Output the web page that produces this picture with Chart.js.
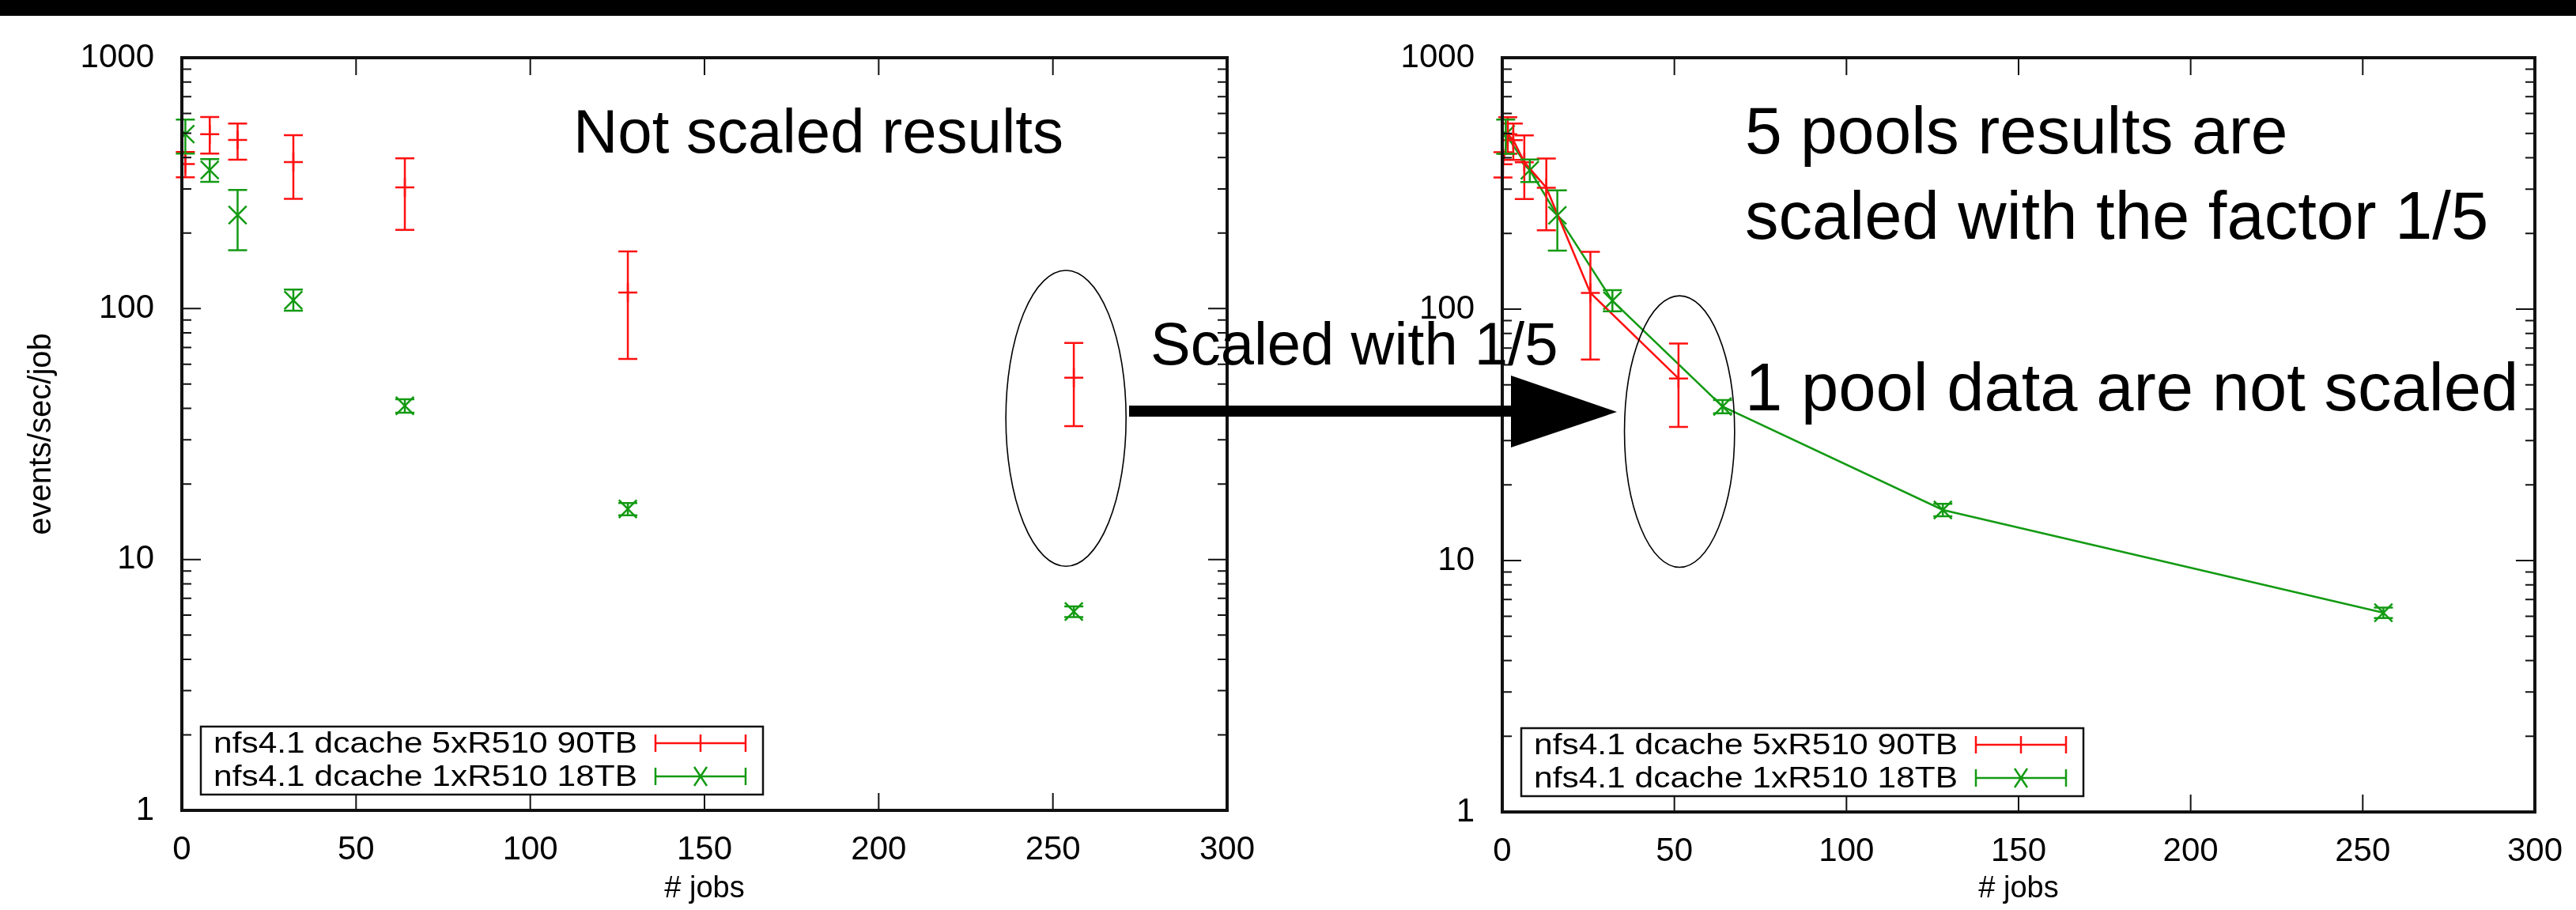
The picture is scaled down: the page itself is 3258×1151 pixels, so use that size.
<!DOCTYPE html>
<html>
<head>
<meta charset="utf-8">
<script src="https://cdn.jsdelivr.net/npm/chart.js@4.4.0/dist/chart.umd.min.js"></script>
<style>
  html, body { margin: 0; padding: 0; background: #fff; }
  #page { position: relative; width: 3258px; height: 1151px; overflow: hidden; background: #fff; }
  #topbar { position: absolute; left: 0; top: 0; width: 3258px; height: 20px; background: #000; z-index: 5; }
  canvas { position: absolute; top: 0; }
  #left { left: 0; }
  #right { left: 1700px; }
  #notes { position: absolute; left: 0; top: 0; z-index: 4; font-family: "Liberation Sans", Arial, sans-serif; }
</style>
</head>
<body>
<div id="page">
  <div id="topbar"></div>
  <canvas id="left" width="1700" height="1151"></canvas>
  <canvas id="right" width="1558" height="1151"></canvas>
  <svg id="notes" width="3258" height="1151">
    <text x="725" y="193" font-size="78">Not scaled results</text>
    <line x1="1428" y1="520" x2="1915" y2="520" stroke="#000" stroke-width="14"/>
    <polygon points="1911,475 2045,521 1911,566" fill="#000"/>
    <text x="1455" y="461" font-size="76">Scaled with 1/5</text>
    <text x="2207" y="194" font-size="84">5 pools results are</text>
    <text x="2207" y="302" font-size="85">scaled with the factor 1/5</text>
    <text x="2207" y="519" font-size="85">1 pool data are not scaled</text>
  </svg>
</div>
<script>
var FONT = '"Liberation Sans", Arial, sans-serif';

// # jobs and events/sec/job
var jobs = [1, 8, 16, 32, 64, 128, 256];
var jobsScaled = [0.2, 1.6, 3.2, 6.4, 12.8, 25.6, 51.2];   // 5 pool runs, jobs scaled by 1/5

var pool5Rate = [377, 496, 470, 384, 304, 116, 53];
var pool5Low  = [334, 415, 392, 274, 206, 63, 34];
var pool5High = [421, 580, 547, 491, 397, 169, 73];

var pool1Rate = [496, 357, 236, 108, 41, 15.9, 6.2];
var pool1Low  = [415, 320, 171, 98, 38.5, 15.0, 5.9];
var pool1High = [567, 394, 297, 119, 43.5, 16.8, 6.5];

var xTicks = [0, 50, 100, 150, 200, 250, 300];
var yTicks = [1, 10, 100, 1000];

var RED = '#ff1010';
var GREEN = '#139a13';

function points(xs, ys, lo, hi) {
	var out = [];
	for (var i = 0; i < xs.length; i++) {
		out.push({ x: xs[i], y: ys[i], lo: lo[i], hi: hi[i] });
	}
	return out;
}

// frame with inward ticks like gnuplot
var framePlugin = {
	id: 'frame',
	afterDraw: function (chart) {
		var ctx = chart.ctx, a = chart.chartArea, x = chart.scales.x, y = chart.scales.y;
		ctx.save();
		ctx.strokeStyle = '#111';
		ctx.lineWidth = 2;
		ctx.beginPath();
		xTicks.forEach(function (v) {
			var px = x.getPixelForValue(v);
			ctx.moveTo(px, a.bottom); ctx.lineTo(px, a.bottom - 22);
			ctx.moveTo(px, a.top); ctx.lineTo(px, a.top + 22);
		});
		for (var d = 1; d < 1000; d *= 10) {
			for (var m = 1; m <= 10; m++) {
				var py = y.getPixelForValue(d * m);
				var len = (m === 1 || m === 10) ? 24 : 12;
				ctx.moveTo(a.left, py); ctx.lineTo(a.left + len, py);
				ctx.moveTo(a.right, py); ctx.lineTo(a.right - len, py);
			}
		}
		ctx.stroke();
		ctx.lineWidth = 4;
		ctx.strokeRect(a.left, a.top, a.right - a.left, a.bottom - a.top);
		ctx.restore();
	}
};

var errorBarPlugin = {
	id: 'errbars',
	afterDatasetsDraw: function (chart) {
		var ctx = chart.ctx, x = chart.scales.x, y = chart.scales.y;
		ctx.save();
		chart.data.datasets.forEach(function (ds) {
			ctx.strokeStyle = ds.borderColor;
			ctx.lineWidth = 2.5;
			ds.data.forEach(function (p) {
				var px = x.getPixelForValue(p.x);
				var yl = y.getPixelForValue(p.lo), yh = y.getPixelForValue(p.hi);
				ctx.beginPath();
				ctx.moveTo(px, yl); ctx.lineTo(px, yh);
				ctx.moveTo(px - 12, yl); ctx.lineTo(px + 12, yl);
				ctx.moveTo(px - 12, yh); ctx.lineTo(px + 12, yh);
				ctx.stroke();
			});
		});
		ctx.restore();
	}
};

var ellipsePlugin = {
	id: 'ring',
	afterDraw: function (chart, args, opts) {
		if (!opts || opts.xMin === undefined) return;
		var ctx = chart.ctx, x = chart.scales.x, y = chart.scales.y;
		var x0 = x.getPixelForValue(opts.xMin), x1 = x.getPixelForValue(opts.xMax);
		var y0 = y.getPixelForValue(opts.yMax), y1 = y.getPixelForValue(opts.yMin);
		ctx.save();
		ctx.strokeStyle = '#000';
		ctx.lineWidth = 1.6;
		ctx.beginPath();
		ctx.ellipse((x0 + x1) / 2, (y0 + y1) / 2, (x1 - x0) / 2, (y1 - y0) / 2, 0, 0, Math.PI * 2);
		ctx.stroke();
		ctx.restore();
	}
};

var keyPlugin = {
	id: 'keybox',
	afterDraw: function (chart) {
		var ctx = chart.ctx, a = chart.chartArea;
		var left = a.left + 24, bottom = a.bottom - 20, w = 711, h = 86, top = bottom - h;
		ctx.save();
		ctx.fillStyle = '#fff';
		ctx.fillRect(left, top, w, h);
		ctx.strokeStyle = '#111';
		ctx.lineWidth = 2.5;
		ctx.strokeRect(left, top, w, h);
		chart.data.datasets.forEach(function (ds, i) {
			var cy = top + 21 + i * 42;
			ctx.save();
			ctx.translate(left + 16, cy);
			ctx.scale(1.18, 1);
			ctx.fillStyle = '#000';
			ctx.font = '36px ' + FONT;
			ctx.textBaseline = 'middle';
			ctx.fillText(ds.label, 0, 2);
			ctx.restore();
			var sx0 = left + 575, sx1 = left + 689, mx = (sx0 + sx1) / 2;
			ctx.strokeStyle = ds.borderColor;
			ctx.lineWidth = 2.5;
			ctx.beginPath();
			ctx.moveTo(sx0, cy); ctx.lineTo(sx1, cy);
			ctx.moveTo(sx0, cy - 11); ctx.lineTo(sx0, cy + 11);
			ctx.moveTo(sx1, cy - 11); ctx.lineTo(sx1, cy + 11);
			if (ds.pointStyle === 'cross') {
				ctx.moveTo(mx, cy - 11); ctx.lineTo(mx, cy + 11);
			} else {
				ctx.moveTo(mx - 8, cy - 12); ctx.lineTo(mx + 8, cy + 12);
				ctx.moveTo(mx - 8, cy + 12); ctx.lineTo(mx + 8, cy - 12);
			}
			ctx.stroke();
		});
		ctx.restore();
	}
};

function buildChart(id, redX, withLines, yTitle, yWidth, padRight, xHeight, ring) {
	var ctx = document.getElementById(id);
	return new Chart(ctx, {
		type: 'scatter',
		data: {
			datasets: [{
				label: 'nfs4.1 dcache 5xR510 90TB',
				data: points(redX, pool5Rate, pool5Low, pool5High),
				borderColor: RED,
				backgroundColor: RED,
				pointStyle: 'cross',
				pointRadius: 12,
				pointBorderWidth: 2.5,
				showLine: withLines,
				borderWidth: 2.5
			}, {
				label: 'nfs4.1 dcache 1xR510 18TB',
				data: points(jobs, pool1Rate, pool1Low, pool1High),
				borderColor: GREEN,
				backgroundColor: GREEN,
				pointStyle: 'crossRot',
				pointRadius: 16,
				pointBorderWidth: 2.5,
				showLine: withLines,
				borderWidth: 2.5
			}]
		},
		options: {
			responsive: false,
			animation: false,
			layout: { padding: { left: 0, right: padRight, top: 73, bottom: 0 } },
			plugins: {
				legend: { display: false },
				tooltip: { enabled: false },
				ring: ring
			},
			scales: {
				x: {
					type: 'linear', min: 0, max: 300,
					grid: { display: false },
					border: { display: false },
					ticks: { stepSize: 50, padding: 17, maxRotation: 0, color: '#000', font: { family: FONT, size: 42 } },
					title: { display: true, text: '# jobs', color: '#000', font: { family: FONT, size: 38 }, padding: { top: 0, bottom: 4 } },
					afterFit: function (s) { s.height = xHeight; }
				},
				y: {
					type: 'logarithmic', min: 1, max: 1000,
					grid: { display: false },
					border: { display: false },
					ticks: { padding: 27, color: '#000', font: { family: FONT, size: 42 }, callback: function (v) { return String(v); } },
					afterBuildTicks: function (s) { s.ticks = yTicks.map(function (v) { return { value: v }; }); },
					title: { display: !!yTitle, text: yTitle || '', color: '#000', font: { family: FONT, size: 40 }, padding: { top: 29, bottom: 0 } },
					afterFit: function (s) { s.width = yWidth; }
				}
			}
		},
		plugins: [framePlugin, errorBarPlugin, ellipsePlugin, keyPlugin]
	});
}

buildChart('left', jobs, false, 'events/sec/job', 230, 148, 126,
	{ xMin: 236.5, xMax: 271, yMin: 9.4, yMax: 142 });
buildChart('right', jobsScaled, true, null, 200, 39, 124,
	{ xMin: 35.5, xMax: 67.5, yMin: 9.4, yMax: 113 });
</script>
</body>
</html>
